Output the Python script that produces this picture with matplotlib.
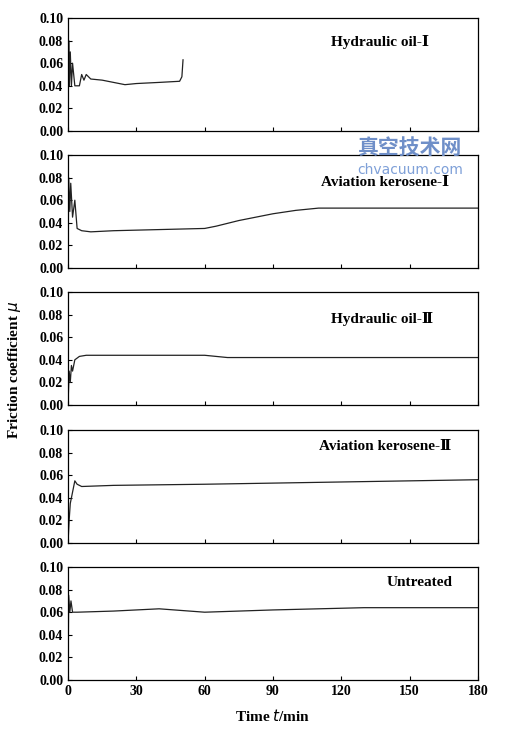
import matplotlib
matplotlib.use("Agg")
import matplotlib.pyplot as plt

plt.rcParams['font.family'] = ['Liberation Serif', 'DejaVu Serif', 'Noto Sans CJK SC']

labels = ["Hydraulic oil-Ⅰ", "Aviation kerosene-Ⅰ", "Hydraulic oil-Ⅱ", "Aviation kerosene-Ⅱ", "Untreated"]
t1 = [0, 0.3, 0.6, 1, 1.5, 2, 3, 5, 6, 7, 8, 10, 15, 20, 25, 30, 40, 49, 50, 50.5]
m1 = [0, 0.08, 0.04, 0.07, 0.04, 0.06, 0.04, 0.04, 0.05, 0.045, 0.05, 0.046, 0.045, 0.043, 0.041, 0.042, 0.043, 0.044, 0.048, 0.063]
t2 = [0, 0.3, 0.8, 1.2, 2, 3, 4, 6, 10, 20, 40, 60, 65, 75, 90, 100, 110, 130, 180]
m2 = [0, 0.08, 0.05, 0.075, 0.045, 0.06, 0.035, 0.033, 0.032, 0.033, 0.034, 0.035, 0.037, 0.042, 0.048, 0.051, 0.053, 0.053, 0.053]
t3 = [0, 0.5, 1, 1.5, 2, 3, 5, 8, 20, 60, 70, 100, 180]
m3 = [0, 0.03, 0.02, 0.035, 0.03, 0.04, 0.043, 0.044, 0.044, 0.044, 0.042, 0.042, 0.042]
t4 = [0, 0.5, 1, 2, 3, 4, 6, 20, 60, 120, 180]
m4 = [0, 0.02, 0.035, 0.045, 0.055, 0.052, 0.05, 0.051, 0.052, 0.054, 0.056]
t5 = [0, 0.3, 0.8, 1.3, 2, 4, 20, 40, 60, 90, 130, 180]
m5 = [0, 0.075, 0.06, 0.07, 0.06, 0.06, 0.061, 0.063, 0.06, 0.062, 0.064, 0.064]
series = [(t1, m1), (t2, m2), (t3, m3), (t4, m4), (t5, m5)]
xticks = [0, 30, 60, 90, 120, 150, 180]
yticks = [0.00, 0.02, 0.04, 0.06, 0.08, 0.10]

W, H = 508, 732
fig = plt.figure(figsize=(W/100, H/100), dpi=100)
tops = [18, 155, 292, 430, 567]
ph = 113
lx = [380, 385, 382, 385, 420]
ly = [42, 182, 319, 447, 582]
for i, ((t, m), lab) in enumerate(zip(series, labels)):
    ax = fig.add_axes([68/W, 1-(tops[i]+ph)/H, 410/W, ph/H])
    ax.plot(t, m, color='#222222', lw=0.9)
    ax.set_xlim(0, 180); ax.set_ylim(0, 0.1)
    ax.set_yticks(yticks)
    ax.set_yticklabels([f"{v:.2f}" for v in yticks], fontsize=10, fontweight='bold')
    ax.set_xticks(xticks)
    if i == 4:
        ax.set_xticklabels([str(v) for v in xticks], fontsize=10, fontweight='bold')
    else:
        ax.set_xticklabels([])
    ax.tick_params(direction='in', length=3, width=0.8)
    for s in ax.spines.values():
        s.set_linewidth(0.9)
    fig.text(lx[i]/W, 1-ly[i]/H, lab, ha='center', va='center', fontsize=11, fontweight='bold')

fig.text(273/W, 1-716/H, "Time $t$/min", ha='center', va='center', fontsize=11, fontweight='bold')
fig.text(15/W, 1-370/H, "Friction coefficient $\\mu$", rotation=90, ha='center', va='center', fontsize=11, fontweight='bold')
fig.text(410/W, 1-147/H, "真空技术网", ha='center', va='center', fontsize=15, color='#6f8fc8', family=['Noto Sans CJK SC'], fontweight='bold')
fig.text(410/W, 1-170/H, "chvacuum.com", ha='center', va='center', fontsize=10, color='#7fa0d8', family=['DejaVu Sans'])
fig.savefig("out.png", dpi=100)
